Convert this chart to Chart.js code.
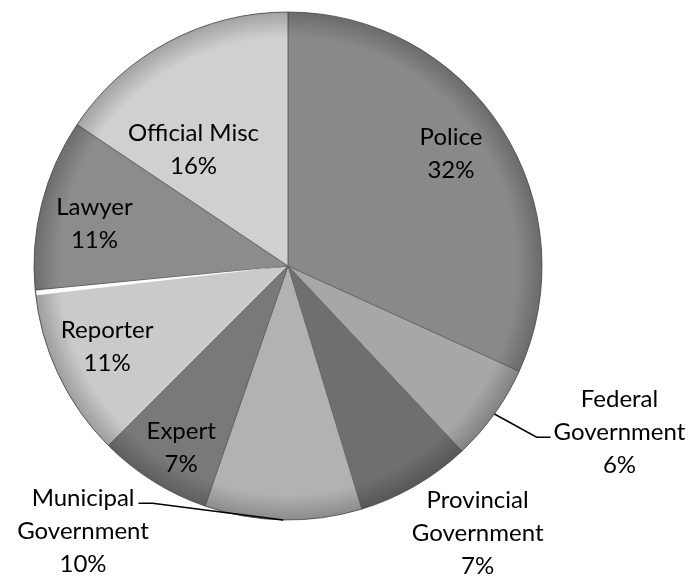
<!DOCTYPE html>
<html>
<head>
<meta charset="utf-8">
<script src="https://cdn.jsdelivr.net/npm/chart.js@4"></script>
<style>
  html, body { margin: 0; padding: 0; background: #fff; }
  #wrap { width: 694px; height: 578px; }
</style>
</head>
<body>
<div id="wrap"><canvas id="pieChart"></canvas></div>
<script>
// slices, clockwise from 12 o'clock
const categories = [
  ['Police'],
  ['Federal', 'Government'],
  ['Provincial', 'Government'],
  ['Municipal', 'Government'],
  ['Expert'],
  ['Reporter'],
  ['Lawyer'],
  ['Official Misc']
];
const shares = [31.8, 6.2, 7.3, 10.0, 7.2, 11.0, 10.9, 15.6];

const sliceColors = ['#898989', '#a7a7a7', '#6f6f6f', '#b2b2b2', '#797979', '#cacaca', '#8c8c8c', '#d0d0d0'];

// where each label sits: fraction of radius and angle nudge (deg) from slice middle
const labelPlacement = [
  { f: 0.78, shift: -1.9 },
  { f: 1.46, shift: -9, leader: { line: 1, side: 'left' } },
  { f: 1.29, shift: -5.3 },
  { f: 1.32, shift: 36.6, leader: { line: 0, side: 'right' } },
  { f: 0.83, shift: -1.6 },
  { f: 0.78, shift: 1.1 },
  { f: 0.78, shift: -1.9 },
  { f: 0.59, shift: -11 }
];

// dark rim + the bright bevel on top of the Reporter slice
const rimShade = {
  id: 'rimShade',
  afterDatasetsDraw(chart) {
    const data = chart.getDatasetMeta(0).data;
    const arc = data[0];
    const ctx = chart.ctx;
    const r = arc.outerRadius;
    ctx.save();
    const g = ctx.createRadialGradient(arc.x, arc.y, r * 0.9, arc.x, arc.y, r);
    g.addColorStop(0, 'rgba(0,0,0,0)');
    g.addColorStop(1, 'rgba(0,0,0,0.22)');
    ctx.fillStyle = g;
    ctx.beginPath();
    ctx.arc(arc.x, arc.y, r, 0, Math.PI * 2);
    ctx.fill();

    const rep = data[5];
    const e = rep.endAngle;
    ctx.fillStyle = 'rgba(255,255,255,0.95)';
    ctx.beginPath();
    ctx.moveTo(rep.x, rep.y);
    ctx.arc(rep.x, rep.y, r - 1, e - 0.022, e - 0.003);
    ctx.closePath();
    ctx.fill();
    ctx.restore();
  }
};

const sliceLabels = {
  id: 'sliceLabels',
  afterDatasetsDraw(chart) {
    const ctx = chart.ctx;
    const meta = chart.getDatasetMeta(0);
    const total = shares.reduce((a, b) => a + b, 0);
    const lh = 33;
    ctx.save();
    ctx.font = '24px Lato';
    ctx.fillStyle = '#000';
    ctx.textAlign = 'center';
    ctx.textBaseline = 'middle';
    meta.data.forEach((arc, i) => {
      const p = labelPlacement[i];
      const r = arc.outerRadius;
      const mid = (arc.startAngle + arc.endAngle) / 2;
      const a = mid + p.shift * Math.PI / 180;
      const cx = arc.x + Math.cos(a) * r * p.f;
      const cy = arc.y + Math.sin(a) * r * p.f;
      const lines = categories[i].concat(Math.round(shares[i] / total * 100) + '%');
      const top = cy - (lines.length - 1) / 2 * lh;
      lines.forEach((t, k) => ctx.fillText(t, cx, top + k * lh));

      if (p.leader) {
        const w = ctx.measureText(lines[p.leader.line]).width;
        const ly = top + p.leader.line * lh + 5;
        const ex = p.leader.side === 'left' ? cx - w / 2 - 3 : cx + w / 2 + 4;
        const bx = p.leader.side === 'left' ? ex - 14 : ex + 14;
        ctx.beginPath();
        ctx.moveTo(arc.x + Math.cos(mid) * r, arc.y + Math.sin(mid) * r);
        ctx.lineTo(bx, ly);
        ctx.lineTo(ex, ly);
        ctx.strokeStyle = '#000';
        ctx.lineWidth = 1.5;
        ctx.stroke();
      }
    });
    ctx.restore();
  }
};

const ctx = document.getElementById('pieChart').getContext('2d');
new Chart(ctx, {
  type: 'pie',
  data: {
    labels: categories,
    datasets: [{
      data: shares,
      backgroundColor: sliceColors,
      borderColor: '#666666',
      borderWidth: 1
    }]
  },
  options: {
    responsive: true,
    maintainAspectRatio: false,
    animation: false,
    radius: 254,
    layout: { padding: { left: 0, right: 118, top: 0, bottom: 46 } },
    plugins: {
      legend: { display: false },
      tooltip: { enabled: false }
    }
  },
  plugins: [rimShade, sliceLabels]
});
</script>
</body>
</html>
